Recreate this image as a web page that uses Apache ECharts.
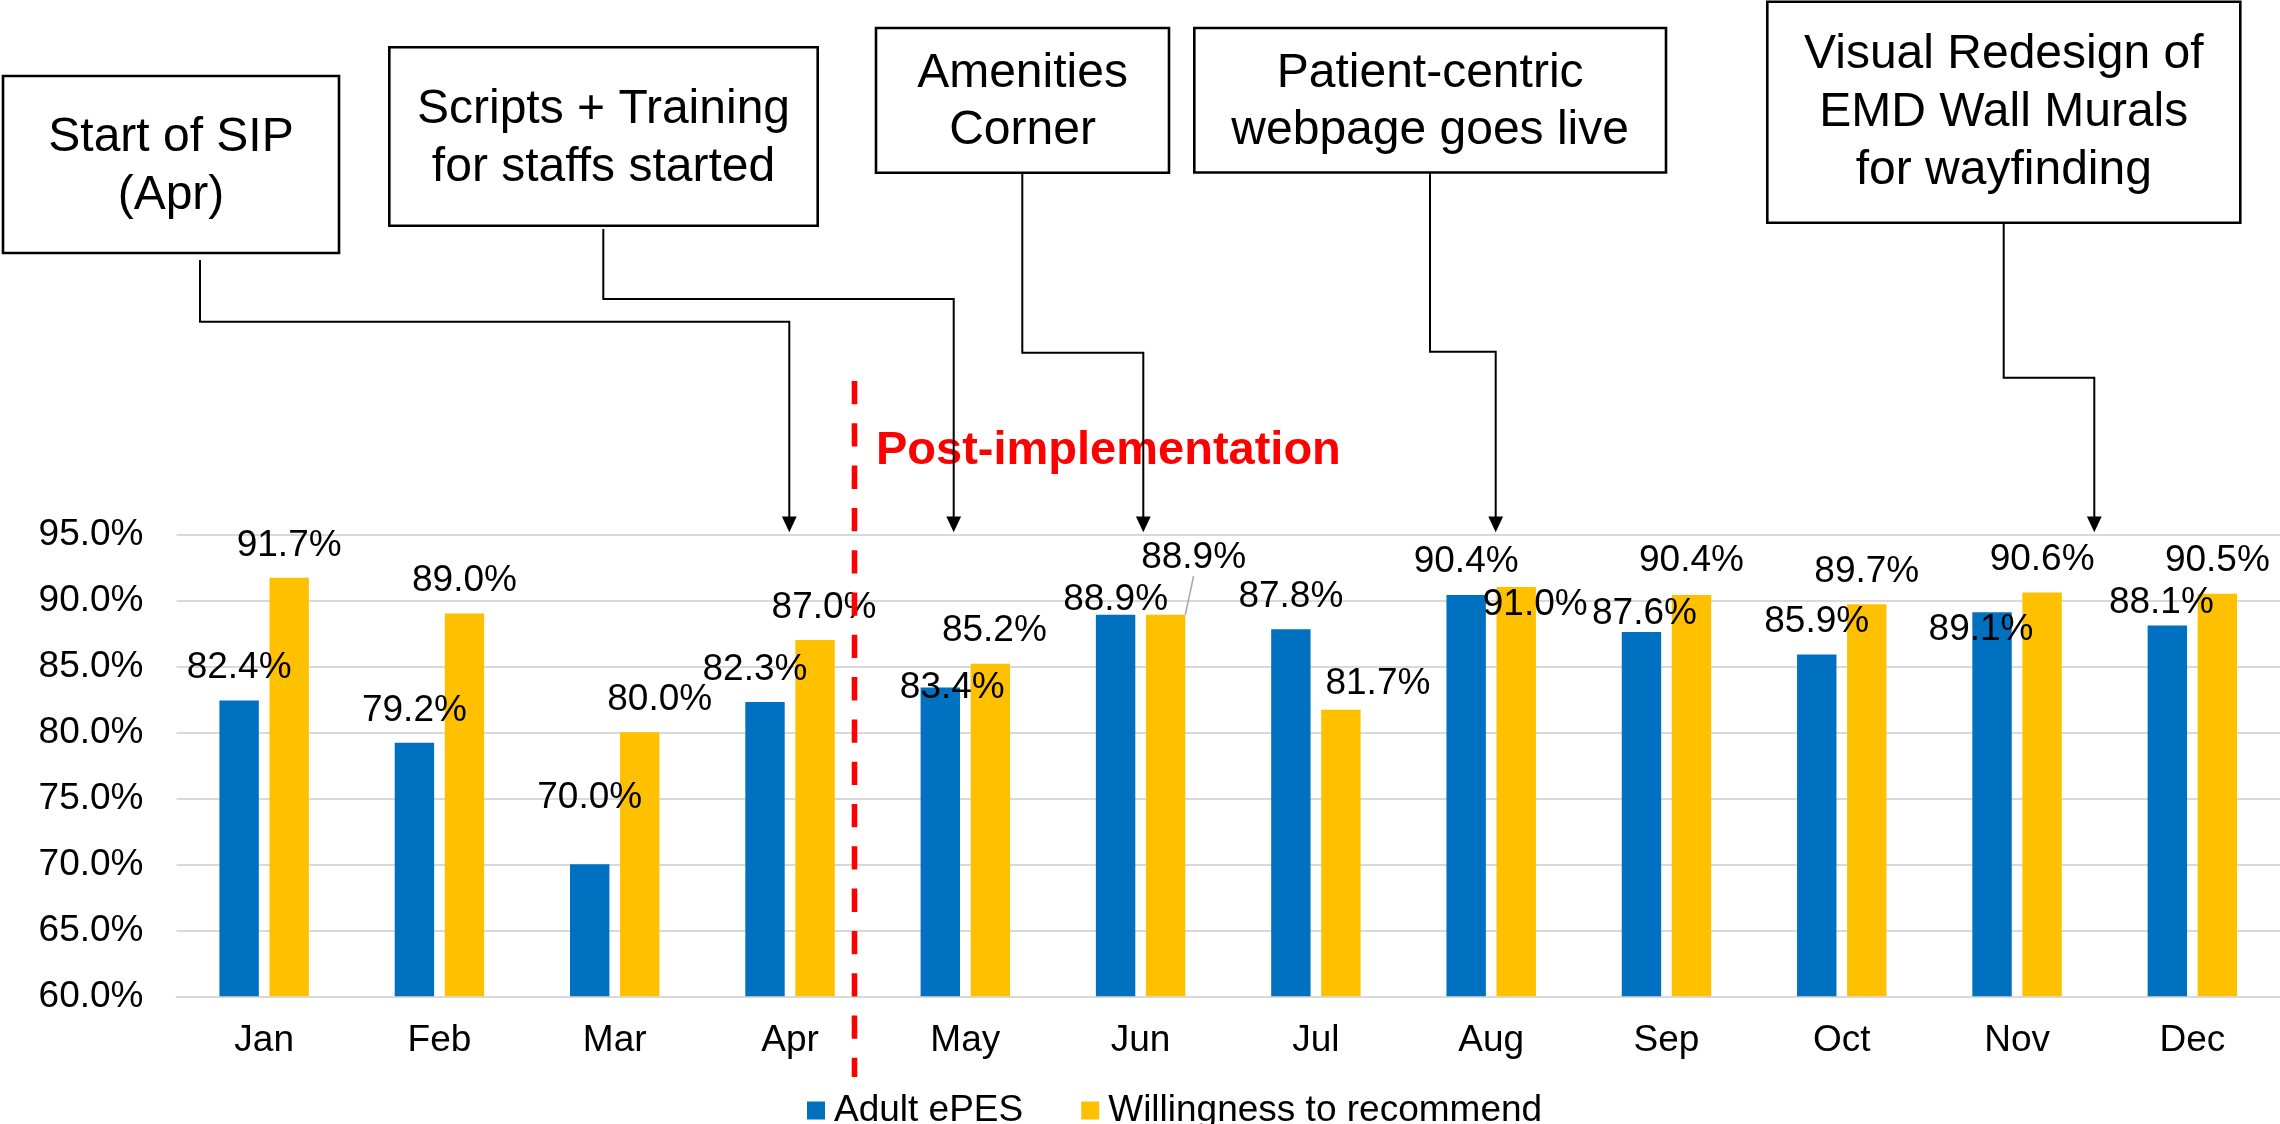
<!DOCTYPE html>
<html>
<head>
<meta charset="utf-8">
<title>Adult ePES vs Willingness to recommend</title>
<script src="https://cdn.jsdelivr.net/npm/echarts@6.0.0/dist/echarts.min.js"></script>
<style>
    html, body { margin: 0; padding: 0; background: #fff; }
    #chart { width: 2280px; height: 1124px; }
</style>
</head>
<body>
<div id="chart"></div>
<script>
// monthly survey results (%)
var months = ["Jan", "Feb", "Mar", "Apr", "May", "Jun", "Jul", "Aug", "Sep", "Oct", "Nov", "Dec"];
var adultEpes = [82.4, 79.2, 70.0, 82.3, 83.4, 88.9, 87.8, 90.4, 87.6, 85.9, 89.1, 88.1];
var willingness = [91.7, 89.0, 80.0, 87.0, 85.2, 88.9, 81.7, 91.0, 90.4, 89.7, 90.6, 90.5];
var yTicks = [60, 65, 70, 75, 80, 85, 90, 95];

// hand-moved data labels in the original, [dx, dy] from the default top spot
var nudgeEpes = [[0, 0], [0, 0], [0, -34], [-10, 0], [12, 33], [0, 17], [0, 0], [0, -1], [3, 14], [0, 0], [-11, 50], [-6, 10]];
var nudgeWill = [[0, 0], [0, 0], [20, 0], [9, 0], [4, 0], [28, -25], [37, 6], [19, 50], [0, -2], [0, 0], [0, 0], [0, 0]];

// milestone call-outs
var notes = [
    {text: "Start of SIP\n(Apr)", box: [3, 76, 336, 177], ty: 166.5,
        path: [[200, 260], [200, 321.7], [789.3, 321.7], [789.3, 517]]},
    {text: "Scripts + Training\nfor staffs started", box: [389.3, 47.3, 428.4, 178.4], ty: 139,
        path: [[603.3, 229], [603.3, 299], [953.7, 299], [953.7, 517]]},
    {text: "Amenities\nCorner", box: [876, 28, 293, 144.7], ty: 102.2,
        path: [[1022.3, 172.7], [1022.3, 352.7], [1143.3, 352.7], [1143.3, 517]]},
    {text: "Patient-centric\nwebpage goes live", box: [1194.3, 28, 471.7, 144.5], ty: 102.2,
        path: [[1430, 172.5], [1430, 351.7], [1495.7, 351.7], [1495.7, 517]]},
    {text: "Visual Redesign of\nEMD Wall Murals\nfor wayfinding", box: [1767.3, 1.7, 473, 221], ty: 112.7,
        path: [[2003.7, 222.7], [2003.7, 377.7], [2094.3, 377.7], [2094.3, 517]]}
];

var FONT = "'Liberation Sans', Arial, sans-serif";
var chart = echarts.init(document.getElementById("chart"), null, {renderer: "canvas"});

function buildGraphics() {
    var items = [];
    for (var i = 0; i < notes.length; i++) {
        var n = notes[i];
        items.push({
            type: "rect",
            shape: {x: n.box[0], y: n.box[1], width: n.box[2], height: n.box[3]},
            style: {fill: "#fff", stroke: "#000", lineWidth: 2.6},
            z: 10
        });
        items.push({
            type: "text",
            x: n.box[0] + n.box[2] / 2,
            y: n.ty,
            style: {
                text: n.text, font: "48px " + FONT, fill: "#000",
                align: "center", verticalAlign: "middle", lineHeight: 57.6
            },
            z: 11
        });
        items.push({
            type: "polyline",
            shape: {points: n.path},
            style: {stroke: "#000", lineWidth: 2, fill: null},
            z: 10
        });
        var tip = n.path[n.path.length - 1][0];
        items.push({
            type: "polygon",
            shape: {points: [[tip - 7.4, 516.5], [tip + 7.4, 516.5], [tip, 532.3]]},
            style: {fill: "#000"},
            z: 10
        });
    }
    // pre / post implementation divider
    items.push({
        type: "line",
        shape: {x1: 854.5, y1: 381, x2: 854.5, y2: 1077},
        style: {stroke: "#ff0000", lineWidth: 5.6, lineDash: [23.3, 19]},
        z: 9
    });
    items.push({
        type: "text",
        x: 876,
        y: 427.7,
        style: {
            text: "Post-implementation", font: "bold 47px " + FONT, fill: "#ff0000",
            align: "left", verticalAlign: "alphabetic"
        },
        z: 9
    });
    return items;
}

function labelData(values, withLine) {
    return values.map(function (v, i) {
        var d = {value: v};
        if (withLine && withLine === i) {
            d.labelLine = {show: true, lineStyle: {color: "#a6a6a6", width: 1.5}};
        }
        return d;
    });
}

var option = {
    backgroundColor: "#fff",
    animation: false,
    textStyle: {fontFamily: FONT},
    grid: {left: 176.5, top: 534.3, width: 2105.4, bottom: 127.7, containLabel: false},
    legend: {
        left: 802,
        top: 1087,
        icon: "rect",
        itemWidth: 18,
        itemHeight: 18,
        itemGap: 58,
        textStyle: {fontSize: 37, color: "#000", fontFamily: FONT, padding: [0, 0, 0, 4]},
        data: ["Adult ePES", "Willingness to recommend"]
    },
    xAxis: {
        type: "category",
        data: months,
        axisTick: {show: false},
        axisLine: {lineStyle: {color: "#d9d9d9", width: 2}},
        axisLabel: {fontSize: 37, color: "#000", margin: 26, fontFamily: FONT}
    },
    yAxis: {
        type: "value",
        min: yTicks[0],
        max: yTicks[yTicks.length - 1],
        interval: yTicks[1] - yTicks[0],
        axisLine: {show: false},
        axisTick: {show: false},
        splitLine: {lineStyle: {color: "#d9d9d9", width: 2}},
        axisLabel: {
            fontSize: 37, color: "#000", margin: 33, fontFamily: FONT,
            formatter: function (v) { return v.toFixed(1) + "%"; }
        }
    },
    series: [
        {
            name: "Adult ePES",
            type: "bar",
            data: labelData(adultEpes),
            barWidth: 39.4,
            barGap: "27%",
            itemStyle: {color: "#0070C0"},
            label: {
                show: true, position: "top", distance: 14,
                fontSize: 37, color: "#000", fontFamily: FONT,
                formatter: function (p) { return p.value.toFixed(1) + "%"; }
            },
            labelLayout: function (p) {
                return {dx: nudgeEpes[p.dataIndex][0], dy: nudgeEpes[p.dataIndex][1]};
            }
        },
        {
            name: "Willingness to recommend",
            type: "bar",
            data: labelData(willingness, 5),
            barWidth: 39.4,
            itemStyle: {color: "#FFC000"},
            label: {
                show: true, position: "top", distance: 14,
                fontSize: 37, color: "#000", fontFamily: FONT,
                formatter: function (p) { return p.value.toFixed(1) + "%"; }
            },
            labelLayout: function (p) {
                return {dx: nudgeWill[p.dataIndex][0], dy: nudgeWill[p.dataIndex][1]};
            }
        }
    ],
    graphic: buildGraphics()
};

chart.setOption(option);
</script>
</body>
</html>
